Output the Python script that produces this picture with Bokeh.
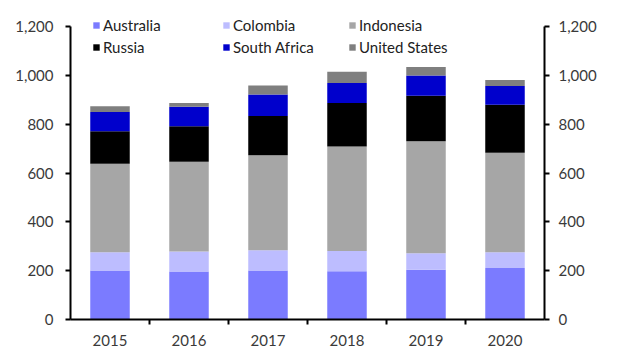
from bokeh.plotting import figure
from bokeh.models import (Range1d, LinearAxis, FixedTicker, NumeralTickFormatter,
                          Legend, LegendItem)
from bokeh.embed import file_html
from bokeh.resources import INLINE

years = [2015, 2016, 2017, 2018, 2019, 2020]
series = ["Australia", "Colombia", "Indonesia", "Russia", "South Africa", "United States"]
australia = [201, 197, 201, 198, 204, 211]
colombia = [75, 82, 83, 83, 68, 65]
indonesia = [363, 368, 389, 428, 459, 408]
russia = [133, 145, 161, 179, 186, 197]
south_africa = [79, 80, 89, 82, 83, 76]
united_states = [23, 16, 36, 46, 35, 25]
y_ticks = [0, 200, 400, 600, 800, 1000, 1200]

colors = ["#7B7BFF", "#BDBDFF", "#A6A6A6", "#000000", "#0000CC", "#7F7F7F"]
FONT = "Lato"
LABEL_COLOR = "#3a3a3a"

data = {"year": years, "Australia": australia, "Colombia": colombia,
        "Indonesia": indonesia, "Russia": russia, "South Africa": south_africa,
        "United States": united_states}

p = figure(width=620, height=350, output_backend="svg", toolbar_location=None,
           x_range=Range1d(years[0] - 0.5, years[-1] + 0.5),
           y_range=Range1d(0, 1308),
           min_border_left=70, min_border_right=76, min_border_top=0,
           min_border_bottom=31, outline_line_color=None)
p.grid.visible = False

renderers = p.vbar_stack(series, x="year", width=0.5, color=colors, source=data,
                         line_color=None)

# x axis
xa = p.xaxis[0]
xa.ticker = FixedTicker(ticks=years, minor_ticks=[y + 0.5 for y in years[:-1]])
xa.formatter = NumeralTickFormatter(format="0")
xa.major_tick_out = 0
xa.major_tick_in = 0
xa.minor_tick_out = 5
xa.minor_tick_in = 0
xa.minor_tick_line_width = 2
xa.minor_tick_line_color = "black"
xa.axis_line_width = 2
xa.axis_line_color = "black"
xa.major_label_standoff = 10
xa.major_label_text_font = FONT
xa.major_label_text_font_size = "15px"
xa.major_label_text_color = LABEL_COLOR

def style_y(ax, standoff):
    ax.ticker = FixedTicker(ticks=y_ticks)
    ax.formatter = NumeralTickFormatter(format="0,0")
    ax.bounds = (0, 1200)
    ax.axis_line_width = 2
    ax.axis_line_color = "black"
    ax.major_tick_out = 5
    ax.major_tick_in = 0
    ax.major_tick_line_width = 2
    ax.minor_tick_out = 0
    ax.minor_tick_in = 0
    ax.major_label_standoff = standoff
    ax.major_label_text_font = FONT
    ax.major_label_text_font_size = "15px"
    ax.major_label_text_color = LABEL_COLOR

style_y(p.yaxis[0], 12)
ra = LinearAxis()
style_y(ra, 9)
p.add_layout(ra, "right")

cols = [(0, 3), (1, 4), (2, 5)]
xs = [22, 152, 278]
for (a, b), lx in zip(cols, xs):
    leg = Legend(items=[LegendItem(label=series[a], renderers=[renderers[a]]),
                        LegendItem(label=series[b], renderers=[renderers[b]])],
                 location=(lx, 262), orientation="vertical",
                 glyph_width=8, glyph_height=8, label_height=20, spacing=2,
                 label_standoff=3, padding=0, margin=0,
                 background_fill_alpha=0, border_line_alpha=0,
                 label_text_font=FONT, label_text_font_size="15px",
                 label_text_color="#222222")
    p.add_layout(leg, "center")

open("out.html", "w").write(file_html(p, INLINE))
